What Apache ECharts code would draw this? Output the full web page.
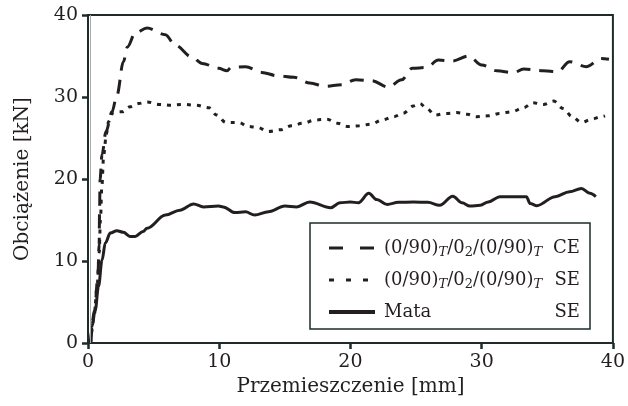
<!DOCTYPE html>
<html>
<head>
<meta charset="utf-8">
<script src="https://cdn.jsdelivr.net/npm/echarts@6/dist/echarts.min.js"></script>
<style>html,body{margin:0;padding:0;background:#fff}#c{width:628px;height:406px}</style>
</head>
<body>
<div id="c"></div>
<script>
// ---- data ----
const xTicks = [0, 10, 20, 30, 40];
const yTicks = [0, 10, 20, 30, 40];
const xTitle = 'Przemieszczenie [mm]';
const yTitle = 'Obciążenie [kN]';

const ceX = [0.2,0.5,0.75,0.85,0.88,0.92,1.07,1.37,1.83,2.2,2.7,3.0,3.6,4.5,5.9,6.65,7.9,8.7,9.95,10.6,10.9,12.0,13.25,14.4,15.7,16.9,18.1,19.3,20.4,21.6,22.9,23.9,24.7,25.8,26.7,27.8,29.0,30.0,31.15,32.4,33.2,34.7,35.8,36.7,38.0,39.1,39.7];
const ceY = [0,4,8,12,16,20,23,25.8,28.2,30.2,34.3,36.1,37.8,38.4,37.6,36.3,34.9,34.1,33.5,33.2,33.6,33.7,33.0,32.6,32.4,31.7,31.3,31.5,32.1,32.0,31.2,32.1,33.5,33.6,34.5,34.4,35.0,33.9,33.2,32.95,33.4,33.2,33.1,34.3,33.7,34.7,34.6];

const seX = [0.2,0.45,0.7,0.85,0.95,1.05,1.2,1.4,1.57,1.95,2.6,3.2,3.85,4.5,5.4,6.3,7.2,8.2,9.2,9.8,10.5,11.5,12.2,12.9,13.75,14.65,15.5,16.4,17.3,18.2,19.0,19.85,20.7,21.6,22.4,23.3,24.0,24.8,25.3,25.8,26.45,27.3,28.1,28.9,29.6,30.5,31.4,32.3,33.2,33.9,34.7,35.5,36.2,36.9,37.6,38.4,39.1,39.4];
const seY = [0,3,7,11,15,19,23,25.5,27.0,28.2,28.2,28.8,29.2,29.4,29.1,29.0,29.1,29.0,28.7,27.8,26.9,26.9,26.4,26.3,25.8,26.0,26.5,26.8,27.2,27.3,26.8,26.4,26.5,26.7,27.2,27.6,28.0,28.9,29.2,28.6,27.8,28.0,28.1,27.9,27.6,27.7,28.0,28.2,28.7,29.3,29.1,29.5,28.6,27.6,26.9,27.3,27.6,27.7];

const mataX = [0.2,0.3,0.55,0.8,1.07,1.32,1.7,2.2,2.7,3.2,3.6,4.2,4.5,5.9,7.0,8.05,8.8,9.95,10.3,11.2,12.0,12.7,13.75,15.0,15.9,16.9,18.5,19.2,20.0,20.6,21.4,22.0,22.8,23.65,24.8,25.9,26.8,27.8,28.5,29.1,29.9,30.5,31.4,33.4,33.7,34.2,35.6,36.7,37.6,38.25,38.7];
const mataY = [0,2,4,6.9,10.1,12.2,13.4,13.7,13.5,13.0,13.0,13.6,14.0,15.6,16.2,16.95,16.6,16.7,16.6,15.9,16.0,15.6,16.0,16.7,16.6,17.2,16.5,17.1,17.2,17.1,18.25,17.5,16.9,17.15,17.2,17.15,16.8,17.9,17.1,16.7,16.8,17.2,17.85,17.85,17.0,16.75,17.85,18.45,18.85,18.25,17.85];

const guideX = [0.15];
// ---- end data ----

const zip = (xs, ys) => xs.map((x, i) => [x, ys[i]]);
const FONT = 'DejaVu Serif';
const INK = '#231f20';
const AX = '#1f2b2b';

const chart = echarts.init(document.getElementById('c'), null, {renderer: 'canvas'});
const axisCommon = {
  type: 'value', min: 0, max: 40, interval: 10,
  axisLine: {show: true, lineStyle: {color: AX, width: 2}},
  axisTick: {show: true, inside: false, length: 6, lineStyle: {color: AX, width: 2.5}},
  splitLine: {show: false},
  axisLabel: {fontFamily: FONT, fontSize: 19, color: INK, margin: 10},
  nameLocation: 'middle',
  nameTextStyle: {fontFamily: FONT, fontSize: 20, color: INK}
};
const rich = {
  t: {fontFamily: FONT, fontSize: 13, fontStyle: 'italic', color: INK, verticalAlign: 'bottom', lineHeight: 22},
  d: {fontFamily: FONT, fontSize: 13, color: INK, verticalAlign: 'bottom', lineHeight: 22},
  r: {fontFamily: FONT, fontSize: 18, color: INK, align: 'right', lineHeight: 22}
};
const labels = {
  ce: '(0/90){t|T}/0{d|2}/(0/90){t|T}{r|CE}',
  se: '(0/90){t|T}/0{d|2}/(0/90){t|T}{r|SE}',
  mata: 'Mata{r|SE}'
};
const lineBase = {type: 'line', showSymbol: false, symbol: 'none', smooth: 0.35, smoothMonotone: 'x'};

chart.setOption({
  animation: false,
  grid: {left: 88, right: 15, top: 15, bottom: 63, show: true, borderColor: AX, borderWidth: 2},
  xAxis: Object.assign({}, axisCommon, {name: xTitle, nameGap: 30}),
  yAxis: Object.assign({}, axisCommon, {name: yTitle, nameGap: 55}),
  legend: {
    orient: 'vertical', left: 310, top: 223,
    padding: [14, 10, 6, 17],
    itemWidth: 46, itemHeight: 14, itemGap: 10,
    backgroundColor: '#fff', borderColor: AX, borderWidth: 1.5, borderRadius: 0,
    itemStyle: {color: 'transparent', borderColor: 'transparent', borderWidth: 0},
    formatter: name => labels[name],
    textStyle: {fontFamily: FONT, fontSize: 18, color: INK, width: 196, lineHeight: 22, padding: [0, 0, 0, 4], rich: rich},
    data: [
      {name: 'ce', lineStyle: {type: [14, 17], width: 3, cap: 'butt'}},
      {name: 'se', lineStyle: {type: [5, 12], width: 3, cap: 'butt'}},
      {name: 'mata', lineStyle: {type: 'solid', width: 4}}
    ]
  },
  series: [
    Object.assign({}, lineBase, {name: 'ce', data: zip(ceX, ceY), lineStyle: {color: INK, width: 3, type: [14, 9], cap: 'butt'}, itemStyle: {color: INK}}),
    Object.assign({}, lineBase, {name: 'se', data: zip(seX, seY), lineStyle: {color: INK, width: 3, type: [4, 6], cap: 'butt'}, itemStyle: {color: INK}}),
    Object.assign({}, lineBase, {name: 'mata', data: zip(mataX, mataY), lineStyle: {color: INK, width: 3, type: 'solid'}, itemStyle: {color: INK},
      markLine: {silent: true, symbol: 'none', label: {show: false}, lineStyle: {color: '#aaa', width: 1, type: 'solid'},
        data: guideX.map(v => ({xAxis: v}))}})
  ]
});
</script>
</body>
</html>
